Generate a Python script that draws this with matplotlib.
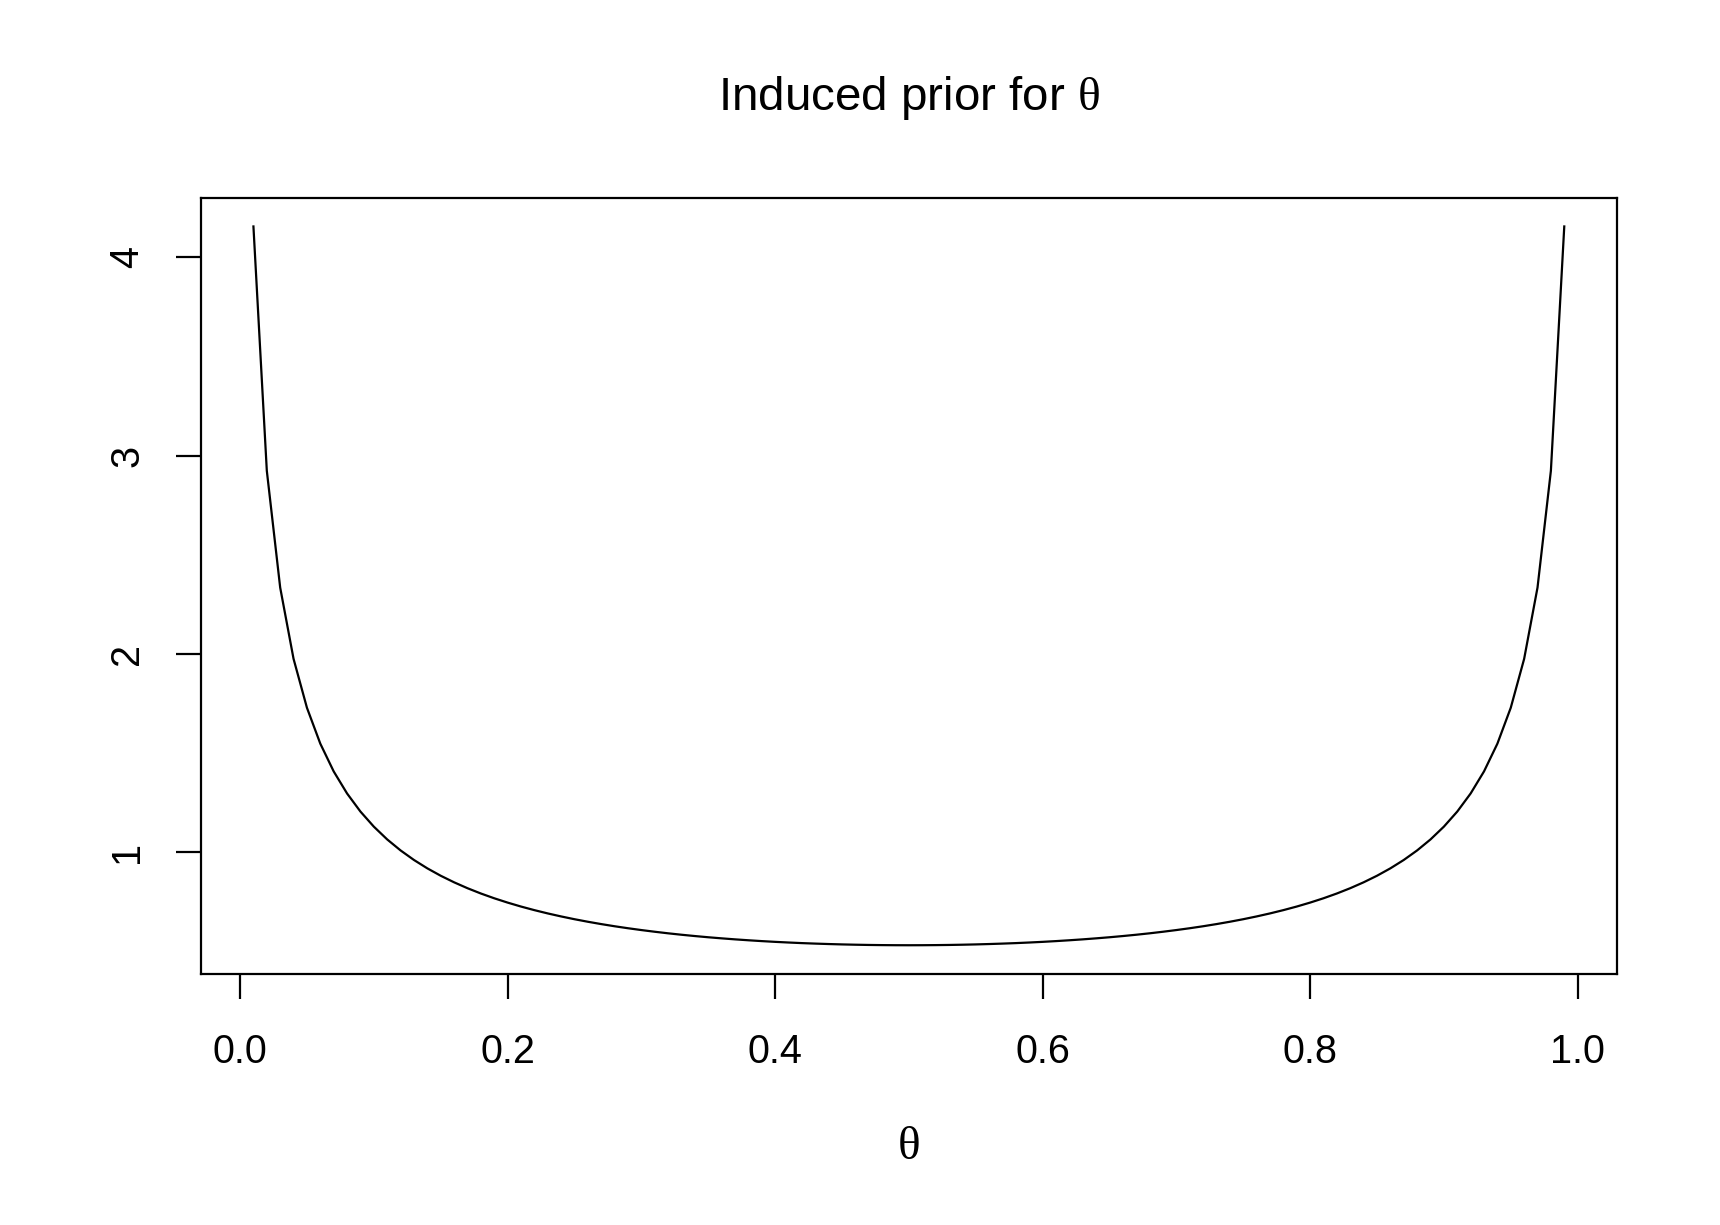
import matplotlib
matplotlib.use("Agg")
import matplotlib.pyplot as plt

plt.rcParams['font.family'] = ['Liberation Sans', 'DejaVu Sans']
plt.rcParams['mathtext.fontset'] = 'custom'
plt.rcParams['mathtext.rm'] = 'Liberation Serif'
plt.rcParams['mathtext.it'] = 'Liberation Serif'

theta = [round(0.01 * i, 2) for i in range(1, 100)]
density_left = [
    4.1564, 2.9247, 2.3354, 1.9759, 1.7295, 1.5483, 1.4085, 1.2972, 1.2060, 1.1300,
    1.0655, 1.0101, 0.9619, 0.9197, 0.8824, 0.8493, 0.8196, 0.7929, 0.7688, 0.7470,
    0.7271, 0.7090, 0.6924, 0.6772, 0.6632, 0.6504, 0.6386, 0.6277, 0.6177, 0.6085,
    0.6000, 0.5921, 0.5849, 0.5783, 0.5722, 0.5667, 0.5616, 0.5570, 0.5528, 0.5490,
    0.5457, 0.5427, 0.5402, 0.5380, 0.5361, 0.5346, 0.5334, 0.5326, 0.5321, 0.5319,
]
density_right = [
    0.5321, 0.5326, 0.5334, 0.5346, 0.5361, 0.5380, 0.5402, 0.5427, 0.5457,
    0.5490, 0.5528, 0.5570, 0.5616, 0.5667, 0.5722, 0.5783, 0.5849, 0.5921, 0.6000,
    0.6085, 0.6177, 0.6277, 0.6386, 0.6504, 0.6632, 0.6772, 0.6924, 0.7090, 0.7271,
    0.7470, 0.7688, 0.7929, 0.8196, 0.8493, 0.8824, 0.9197, 0.9619, 1.0101, 1.0655,
    1.1300, 1.2060, 1.2972, 1.4085, 1.5483, 1.7295, 1.9759, 2.3354, 2.9247, 4.1564,
]
density = density_left + density_right

xticks = [0.0, 0.2, 0.4, 0.6, 0.8, 1.0]
xticklabels = ["0.0", "0.2", "0.4", "0.6", "0.8", "1.0"]
yticks = [1, 2, 3, 4]
yticklabels = ["1", "2", "3", "4"]

fig = plt.figure(figsize=(17.2, 12.25), dpi=100)
ax = fig.add_axes([201 / 1720, 1 - 974 / 1225, (1616.7 - 201) / 1720, (974 - 197.7) / 1225])

ax.plot(theta, density, color='black', linewidth=1.6)

xr = max(theta) - min(theta)
ax.set_xlim(min(theta) - 0.04 * xr, max(theta) + 0.04 * xr)
yr = max(density) - min(density)
ax.set_ylim(min(density) - 0.04 * yr, max(density) + 0.04 * yr)

ax.set_xticks(xticks)
ax.set_xticklabels(xticklabels)
ax.set_yticks(yticks)
ax.set_yticklabels(yticklabels, rotation=90, va='center')

ax.tick_params(axis='both', direction='out', length=18, width=1.6, labelsize=28.5,
               colors='black')
ax.tick_params(axis='x', pad=24.5)
ax.tick_params(axis='y', pad=21.5)
for s in ax.spines.values():
    s.set_linewidth(1.6)
    s.set_color('black')

fig.text(908.8 / 1720, 1 - 97.5 / 1225, r'Induced prior for $\mathrm{\theta}$',
         ha='center', va='center', fontsize=34.2)
fig.text(908.8 / 1720, 1 - 1147 / 1225, r'$\mathrm{\theta}$',
         ha='center', va='center', fontsize=34)

fig.savefig('out.png', dpi=100, facecolor='white')
